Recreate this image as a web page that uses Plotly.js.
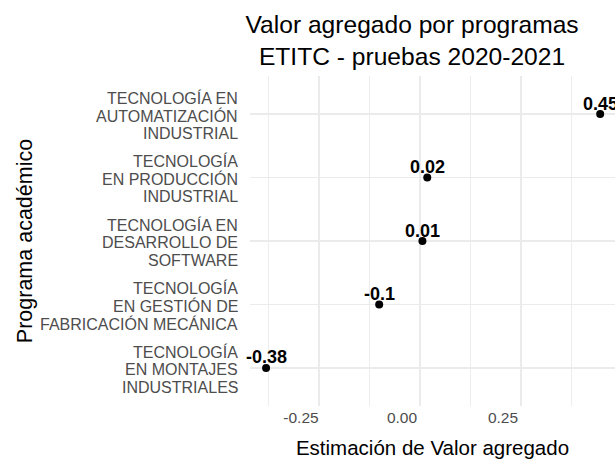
<!DOCTYPE html>
<html>
<head>
<meta charset="utf-8">
<script src="https://cdn.plot.ly/plotly-3.0.1.min.js"></script>
<style>html,body{margin:0;padding:0;background:#fff;}#chart{width:615px;height:459px;}</style>
</head>
<body>
<div id="chart"></div>
<script>
// Programs, listed from top to bottom as in the chart (one entry per category, lines split)
const programas = [
  "TECNOLOGÍA EN AUTOMATIZACIÓN INDUSTRIAL",
  "TECNOLOGÍA EN PRODUCCIÓN INDUSTRIAL",
  "TECNOLOGÍA EN DESARROLLO DE SOFTWARE",
  "TECNOLOGÍA EN GESTIÓN DE FABRICACIÓN MECÁNICA",
  "TECNOLOGÍA EN MONTAJES INDUSTRIALES"
];
const etiquetasPrograma = [
  ["TECNOLOGÍA EN", "AUTOMATIZACIÓN", "INDUSTRIAL"],
  ["TECNOLOGÍA", "EN PRODUCCIÓN", "INDUSTRIAL"],
  ["TECNOLOGÍA EN", "DESARROLLO DE", "SOFTWARE"],
  ["TECNOLOGÍA", "EN GESTIÓN DE", "FABRICACIÓN MECÁNICA"],
  ["TECNOLOGÍA", "EN MONTAJES", "INDUSTRIALES"]
];
const valorAgregado = [0.446, 0.018, 0.006, -0.101, -0.381];
const etiquetas = ["0.45", "0.02", "0.01", "-0.1", "-0.38"];
const xTickVals = [-0.25, 0, 0.25];
const xTickText = ["-0.25", "0.00", "0.25"];
const referencia = 0;

const font = "Liberation Sans, Arial, Helvetica, sans-serif";

const trace = {
  type: "scatter",
  mode: "markers",
  x: valorAgregado,
  y: programas,
  marker: {color: "#000000", size: 8, symbol: "circle"},
  hoverinfo: "x+y",
  showlegend: false,
  cliponaxis: false
};

const annotations = valorAgregado.map((v, i) => ({
  x: v, y: programas[i], xref: "x", yref: "y",
  text: "<b>" + etiquetas[i] + "</b>",
  showarrow: false, xanchor: "center", yanchor: "bottom", yshift: -1.5,
  font: {family: font, size: 18, color: "#000000"}
}));

// Category tick labels, right aligned line by line
const lineGap = 17.7;
etiquetasPrograma.forEach((lines, i) => {
  lines.forEach((ln, j) => {
    annotations.push({
      xref: "paper", x: 0, xanchor: "right", xshift: -10,
      yref: "y", y: programas[i], yanchor: "middle",
      yshift: -1.5 + (1 - j) * lineGap,
      text: ln, showarrow: false, align: "right",
      font: {family: font, size: 16, color: "#4D4D4D"}
    });
  });
});

const layout = {
  width: 615, height: 459,
  margin: {l: 250, r: 0, t: 76, b: 53, autoexpand: false},
  paper_bgcolor: "#ffffff", plot_bgcolor: "#ffffff",
  font: {family: font, color: "#000000"},
  title: {
    text: "Valor agregado por programas<br>ETITC - pruebas 2020-2021",
    font: {family: font, size: 24.6, color: "#000000"},
    xref: "container", x: 0.67, xanchor: "center",
    yref: "container", y: 0.929, yanchor: "top"
  },
  xaxis: {
    range: [-0.4208, 0.4827],
    tickvals: xTickVals, ticktext: xTickText,
    ticklabelshift: -18,
    tickfont: {family: font, size: 15.5, color: "#4D4D4D"},
    showgrid: true, gridcolor: "#EBEBEB", gridwidth: 1.6,
    minor: {dtick: 0.125, tick0: 0.125, showgrid: true, gridcolor: "#EBEBEB", gridwidth: 0.9, ticks: ""},
    zeroline: false, showline: false, ticks: "",
    title: {text: "Estimación de Valor agregado", font: {family: font, size: 20.5, color: "#000000"}, standoff: 16},
    automargin: false
  },
  yaxis: {
    type: "category",
    categoryorder: "array", categoryarray: programas,
    range: [4.6, -0.6],
    showticklabels: false,
    showgrid: true, gridcolor: "#EBEBEB", gridwidth: 1.6,
    zeroline: false, showline: false, ticks: "",
    title: {text: "Programa académico", font: {family: font, size: 21.5, color: "#000000"}, standoff: 210},
    automargin: false
  },
  shapes: [{
    type: "line", layer: "below",
    xref: "x", x0: referencia, x1: referencia,
    yref: "paper", y0: 0, y1: 1,
    line: {color: "#FF0000", width: 1.6, dash: "5px,3px"}
  }],
  annotations: annotations
};

Plotly.newPlot("chart", [trace], layout, {displayModeBar: false, staticPlot: true});
</script>
</body>
</html>
